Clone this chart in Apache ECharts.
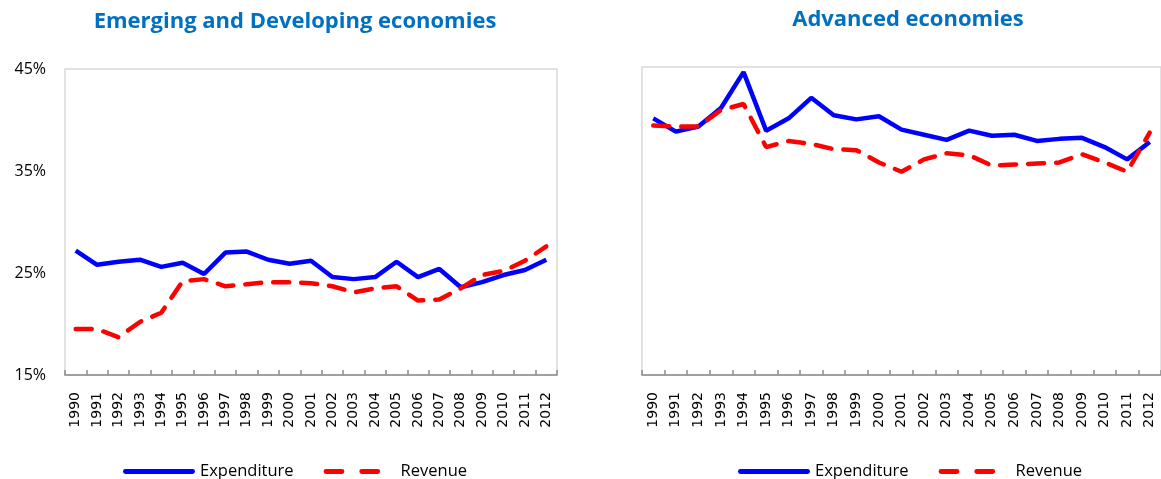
<!DOCTYPE html>
<html>
<head>
<meta charset="utf-8">
<script src="https://cdn.jsdelivr.net/npm/echarts@6/dist/echarts.min.js"></script>
<style>
  html, body { margin: 0; padding: 0; background: #fff; }
  #chart { width: 1161px; height: 479px; }
</style>
</head>
<body>
<div id="chart"></div>
<script>
const years = ['1990', '1991', '1992', '1993', '1994', '1995', '1996', '1997', '1998', '1999', '2000',
  '2001', '2002', '2003', '2004', '2005', '2006', '2007', '2008', '2009', '2010', '2011', '2012']

// Emerging and developing economies (% of GDP)
const emExpenditure = [27.2, 25.8, 26.1, 26.3, 25.6, 26.0, 24.9, 27.0, 27.1, 26.3, 25.9, 26.2,
  24.6, 24.4, 24.6, 26.1, 24.6, 25.4, 23.6, 24.1, 24.8, 25.3, 26.3]
const emRevenue = [19.5, 19.5, 18.7, 20.2, 21.1, 24.2, 24.4, 23.7, 23.9, 24.1, 24.1, 24.0,
  23.7, 23.1, 23.5, 23.7, 22.3, 22.4, 23.5, 24.8, 25.2, 26.2, 27.6]

// Advanced economies (% of GDP)
const advExpenditure = [40.0, 38.7, 39.2, 41.0, 44.5, 38.8, 40.0, 42.0, 40.3, 39.9, 40.2, 38.9,
  38.4, 37.9, 38.8, 38.3, 38.4, 37.8, 38.0, 38.1, 37.2, 36.0, 37.7]
const advRevenue = [39.3, 39.2, 39.2, 40.8, 41.4, 37.2, 37.8, 37.5, 37.0, 36.9, 35.7, 34.8,
  36.0, 36.6, 36.4, 35.4, 35.5, 35.6, 35.7, 36.5, 35.7, 34.8, 38.6]

const yTicks = { min: 15, max: 45, interval: 10 }

const chart = echarts.init(document.getElementById('chart'))

const blue = '#0000ff'
const red = '#ff0000'
const titleBlue = '#0070c0'

// legend swatches: solid bar, and two dashes (trailing moveTo keeps the box 72 wide)
const solidIcon = 'path://M2,0 H70 A2.5,2.5 0 0 1 70,5 H2 A2.5,2.5 0 0 1 2,0 Z'
const dashIcon = 'path://M2,0 H18 A2.5,2.5 0 0 1 18,5 H2 A2.5,2.5 0 0 1 2,0 Z ' +
  'M38,0 H54 A2.5,2.5 0 0 1 54,5 H38 A2.5,2.5 0 0 1 38,0 Z M72,2.5'

function xAxis(gridIndex) {
  return {
    type: 'category',
    data: years,
    gridIndex,
    boundaryGap: true,
    axisLine: { show: true, lineStyle: { color: '#8c8c8c', width: 1.5 } },
    axisTick: { show: true, inside: true, length: 5, lineStyle: { color: '#8c8c8c', width: 1.5 } },
    axisLabel: {
      rotate: 90,
      interval: 0,
      margin: 17,
      fontFamily: 'DejaVu Sans',
      fontSize: 14,
      color: '#000'
    }
  }
}

function yAxis(gridIndex, showLabels) {
  return {
    type: 'value',
    gridIndex,
    min: yTicks.min,
    max: yTicks.max,
    interval: yTicks.interval,
    axisLine: { show: false },
    axisTick: { show: false },
    splitLine: { show: false },
    axisLabel: {
      show: showLabels,
      formatter: '{value}%',
      margin: 19,
      fontFamily: 'Open Sans',
      fontSize: 16,
      color: '#000'
    }
  }
}

function series(name, data, idx, dashed) {
  return {
    name,
    type: 'line',
    xAxisIndex: idx,
    yAxisIndex: idx,
    data,
    symbol: 'none',
    animation: false,
    lineStyle: dashed
      ? { color: red, width: 4.5, type: [16, 12], cap: 'round' }
      : { color: blue, width: 4.5 },
    itemStyle: { color: dashed ? red : blue }
  }
}

const legendCommon = {
  top: 458,
  itemWidth: 72,
  itemHeight: 5,
  itemGap: 30,
  data: [
    { name: 'Expenditure', icon: solidIcon },
    { name: 'Revenue', icon: dashIcon }
  ],
  textStyle: { fontFamily: 'Open Sans', fontSize: 16.5, color: '#000' }
}

const option = {
  animation: false,
  title: [{
    text: 'Emerging and Developing economies',
    left: 290,
    top: 6,
    textAlign: 'center',
    textStyle: { fontFamily: 'Open Sans', fontWeight: 'bold', fontSize: 22, color: titleBlue }
  }, {
    text: 'Advanced economies',
    left: 903,
    top: 4,
    textAlign: 'center',
    textStyle: { fontFamily: 'Open Sans', fontWeight: 'bold', fontSize: 22, color: titleBlue }
  }],
  legend: [
    Object.assign({ left: 118 }, legendCommon),
    Object.assign({ left: 733 }, legendCommon)
  ],
  grid: [{
    left: 65,
    top: 69,
    width: 492,
    height: 306,
    show: true,
    borderColor: '#d9d9d9',
    borderWidth: 1.5
  }, {
    left: 642,
    top: 67,
    width: 522,
    height: 308,
    show: true,
    borderColor: '#d9d9d9',
    borderWidth: 1.5
  }],
  xAxis: [xAxis(0), xAxis(1)],
  yAxis: [yAxis(0, true), yAxis(1, false)],
  series: [
    series('Expenditure', emExpenditure, 0, false),
    series('Revenue', emRevenue, 0, true),
    series('Expenditure', advExpenditure, 1, false),
    series('Revenue', advRevenue, 1, true)
  ]
}

chart.setOption(option)
</script>
</body>
</html>
